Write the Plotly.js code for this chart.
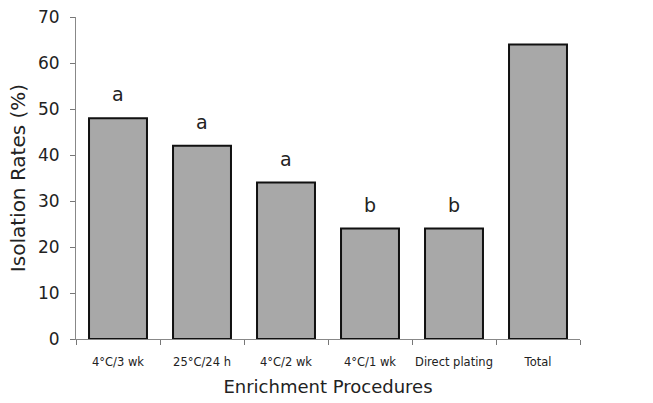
<!DOCTYPE html>
<html><head><meta charset="utf-8">
<script src="https://cdn.plot.ly/plotly-3.0.1.min.js"></script>
<style>html,body{margin:0;padding:0;background:#fff}#c{width:653px;height:403px}</style>
</head><body><div id="c"></div>
<script>
const categories = ["4°C/3 wk", "25°C/24 h", "4°C/2 wk", "4°C/1 wk", "Direct plating", "Total"];
const rates = [48, 42, 34, 24, 24, 64];
const letters = ["a", "a", "a", "b", "b", ""];
const yTicks = [0, 10, 20, 30, 40, 50, 60, 70];

const font = "DejaVu Sans, sans-serif";
const trace = {
  type: "bar", x: categories, y: rates, width: 0.69,
  marker: {color: "#a8a8a8", line: {color: "#111", width: 2}},
  hoverinfo: "none"
};
const annotations = categories.map((c, i) => ({
  x: c, y: rates[i], text: letters[i], showarrow: false,
  yanchor: "bottom", yshift: 11, font: {family: font, size: 19, color: "#222"}
})).filter(a => a.text);

const layout = {
  width: 653, height: 403,
  margin: {l: 76, r: 73, t: 17, b: 64},
  paper_bgcolor: "#fff", plot_bgcolor: "#fff",
  showlegend: false,
  font: {family: font, color: "#222"},
  xaxis: {
    type: "category", range: [-0.5, 5.5], tickson: "boundaries", tickangle: 0,
    ticks: "outside", ticklen: 5, tickcolor: "#777", tickwidth: 1,
    showline: true, linecolor: "#888", linewidth: 1, showgrid: false, zeroline: false,
    tickfont: {family: font, size: 11.5, color: "#222"}, ticklabelstandoff: 12,
    title: {text: "Enrichment Procedures", font: {family: font, size: 18, color: "#222"}, standoff: 12}
  },
  xaxis2: {
    overlaying: "x", anchor: "y", side: "bottom", range: [-0.5, 5.5],
    tickvals: [0.5, 1.5, 2.5, 3.5, 4.5, 5.5], ticks: "inside", ticklen: 5, tickcolor: "#777",
    showticklabels: false, showline: false, showgrid: false, zeroline: false
  },
  yaxis: {
    range: [0, 70], tickvals: yTicks, ticks: "outside", ticklen: 5, tickcolor: "#777",
    showline: true, linecolor: "#888", linewidth: 1, showgrid: false, zeroline: false,
    tickfont: {family: font, size: 17, color: "#222"}, ticklabelstandoff: 7,
    title: {text: "Isolation Rates (%)", font: {family: font, size: 20, color: "#222"}, standoff: 6}
  },
  yaxis2: {
    overlaying: "y", anchor: "x", side: "left", range: [0, 70], tickvals: yTicks,
    ticks: "inside", ticklen: 5, tickcolor: "#777",
    showticklabels: false, showline: false, showgrid: false, zeroline: false
  },
  annotations: annotations
};
Plotly.newPlot("c", [trace], layout, {staticPlot: true, displayModeBar: false});
</script></body></html>
